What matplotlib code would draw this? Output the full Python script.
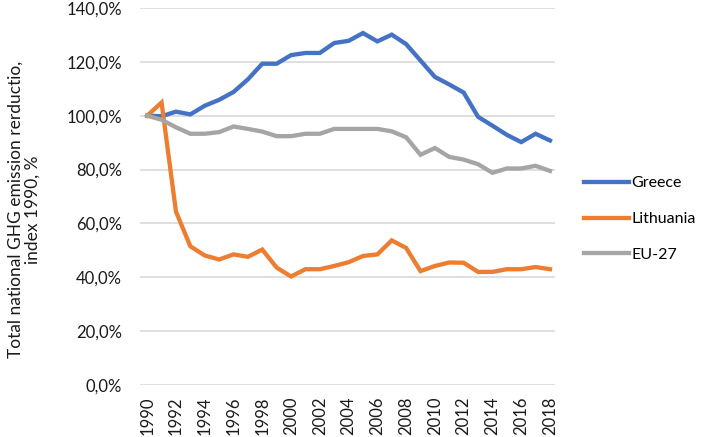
import matplotlib
matplotlib.use("Agg")
import matplotlib.pyplot as plt
from matplotlib.ticker import FuncFormatter

years = list(range(1990, 2019))

greece = [100, 99.8, 101.5, 100.5, 103.7, 105.9, 108.8, 113.5, 119.3, 119.3,
          122.5, 123.3, 123.3, 127.0, 127.8, 130.7, 127.6, 130.1, 126.6, 120.5,
          114.4, 111.6, 108.6, 99.6, 96.3, 92.9, 90.2, 93.3, 90.8]
lithuania = [100, 104.9, 64.4, 51.5, 48.1, 46.6, 48.5, 47.6, 50.3, 43.6,
             40.3, 43.0, 43.0, 44.2, 45.6, 47.9, 48.5, 53.7, 50.9, 42.3,
             44.2, 45.5, 45.4, 42.0, 42.0, 43.0, 43.0, 43.8, 43.0]
eu27 = [100, 98.5, 95.7, 93.3, 93.3, 93.9, 96.0, 95.1, 94.1, 92.4,
        92.4, 93.3, 93.3, 95.1, 95.1, 95.1, 95.1, 94.2, 92.0, 85.5,
        88.0, 84.7, 83.7, 82.0, 78.8, 80.4, 80.4, 81.4, 79.5]

series = [("Greece", greece, "#4472C4"),
          ("Lithuania", lithuania, "#ED7D31"),
          ("EU-27", eu27, "#A5A5A5")]

plt.rcParams['font.family'] = ['Lato', 'DejaVu Sans']

fig = plt.figure(figsize=(7.08, 4.37), dpi=100)
ax = fig.add_axes([140/708, 1 - 385/437, 415/708, 377/437])

for name, vals, col in series:
    ax.plot(years, vals, color=col, lw=3.1, label=name, solid_joinstyle='miter')

ax.set_ylim(0, 140)
ax.set_yticks(range(0, 141, 20))
ax.yaxis.set_major_formatter(FuncFormatter(lambda v, p: ("%.1f%%" % v).replace(".", ",")))
ax.set_xlim(1989.5, 2018.35)
ax.set_xticks(years[::2])
ax.set_xticklabels([str(y) for y in years[::2]], rotation=90)
ax.tick_params(length=0, labelsize=12, colors="#1a1a1a", pad=8)
ax.tick_params(axis='y', pad=13)
ax.grid(axis='y', color="#d9d9d9", lw=1.2)
ax.set_axisbelow(True)
for s in ax.spines.values():
    s.set_visible(False)

fig.text(0.034, 0.52, "Total national GHG emission rerductio,\nindex 1990, %",
         rotation=90, ha='center', va='center', fontsize=12.5, color="#1a1a1a",
         multialignment='center', linespacing=1.1)

ax.legend(loc='center left', bbox_to_anchor=(1.035, 0.44), frameon=False,
          fontsize=11.5, handlelength=2.8, handletextpad=0.15, labelspacing=1.35)

fig.savefig("out.png", dpi=100)
